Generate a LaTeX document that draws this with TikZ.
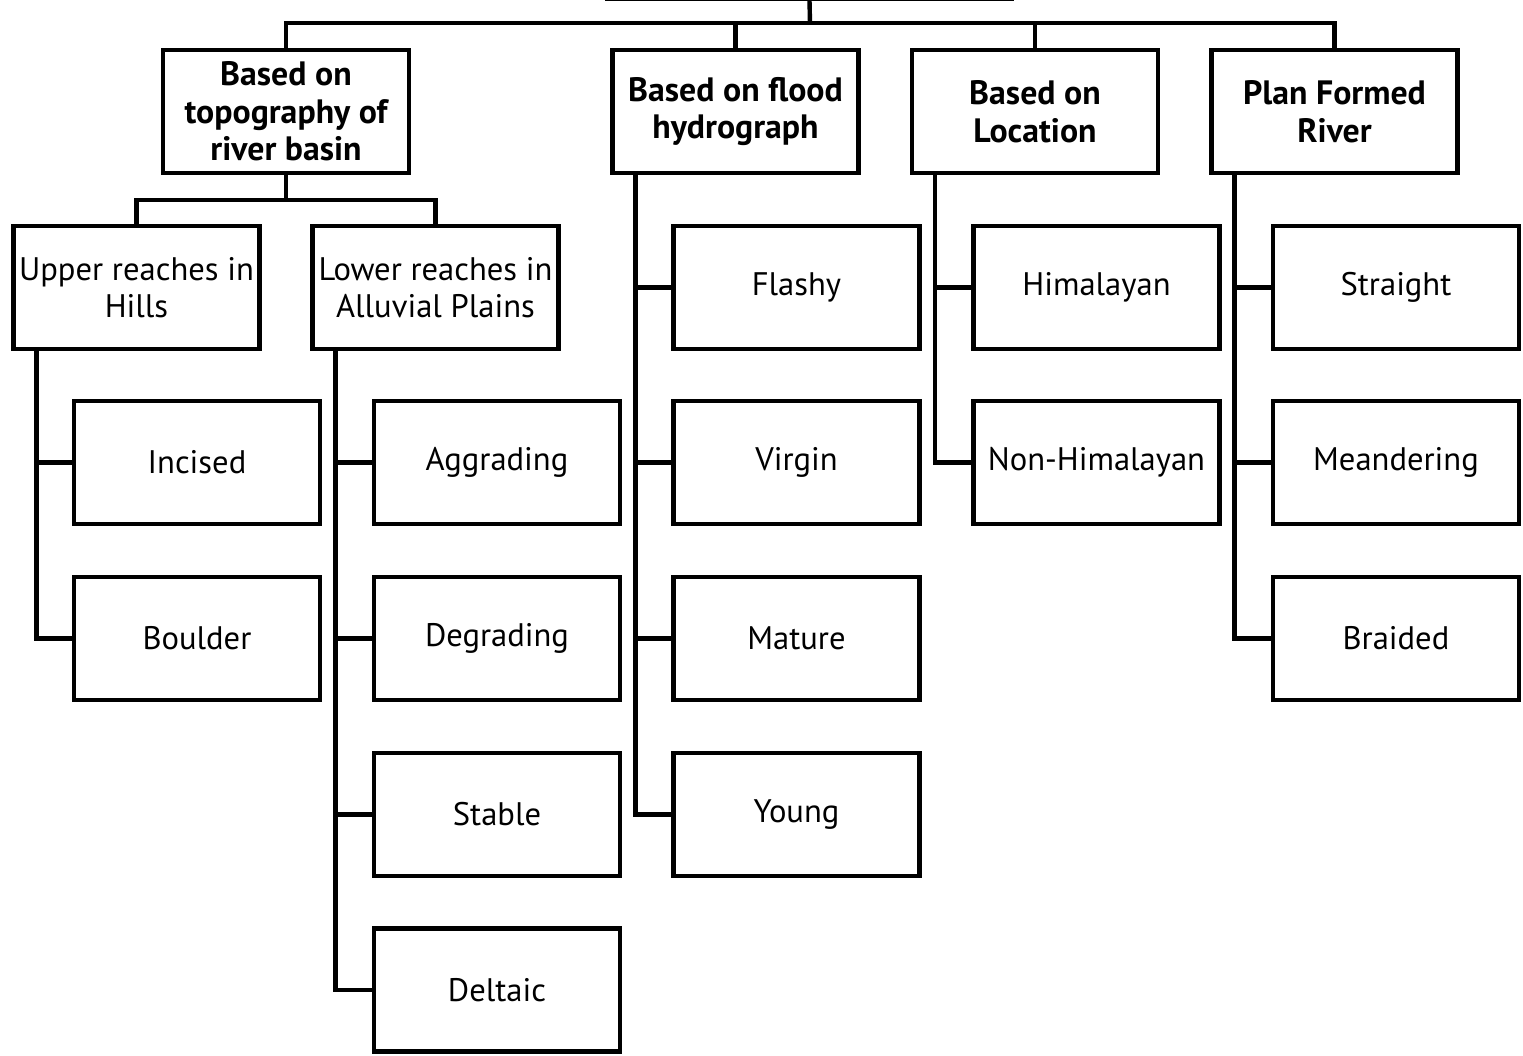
\documentclass[tikz,border=0pt]{standalone}
\usepackage{fontspec}
\setmainfont{PT Sans}
\begin{document}
\begin{tikzpicture}[x=0.5pt,y=-0.5pt,
  box/.style={draw,line width=2.2pt,minimum width=123pt,minimum height=61.5pt,inner sep=0pt,align=center,font=\fontsize{16.3}{18.7}\selectfont},
  cat/.style={box,font=\bfseries\fontsize{16.9}{18.8}\selectfont},
  conn/.style={line width=2.2pt}]
\useasboundingbox (0,0) rectangle (1523,1056);
% root (cropped by page edge)
\node[draw,line width=2pt,minimum width=202.5pt,minimum height=60pt] (root) at (809.5,-61.5) {};
\coordinate (bus) at (810,23);
% categories
\node[cat] (c1) at (286,111.5) {Based on\\topography of\\river basin};
\node[cat] (c2) at (735.5,111.5) {Based on flood\\hydrograph};
\node[cat] (c3) at (1035,111.5) {Based on\\Location};
\node[cat] (c4) at (1334.5,111.5) {Plan Formed\\River};
% second level of c1
\node[box] (up) at (136.5,287.5) {Upper reaches in\\Hills};
\node[box] (low) at (435.5,287.5) {Lower reaches in\\Alluvial Plains};
\coordinate (b1) at (286,200);
% leaves
\node[box] (incised) at (197,462.5) {Incised};
\node[box] (boulder) at (197,638.5) {Boulder};
\node[box] (aggr) at (497,462.5) {Aggrading};
\node[box] (degr) at (497,638.5) {Degrading};
\node[box] (stable) at (497,814.5) {Stable};
\node[box] (deltaic) at (497,990) {Deltaic};
\node[box] (flashy) at (796.5,287.5) {Flashy};
\node[box] (virgin) at (796.5,462.5) {Virgin};
\node[box] (mature) at (796.5,638.5) {Mature};
\node[box] (young) at (796.5,814.5) {Young};
\node[box] (him) at (1096.5,287.5) {Himalayan};
\node[box] (nonhim) at (1096.5,462.5) {Non-Himalayan};
\node[box] (straight) at (1396,287.5) {Straight};
\node[box] (meander) at (1396,462.5) {Meandering};
\node[box] (braided) at (1396,638.5) {Braided};
% connectors
\draw[conn] (root.south) -- (bus);
\foreach \c in {c1,c2,c3,c4} \draw[conn] (\c.north) |- (bus);
\draw[conn] (c1.south) -- (b1);
\draw[conn] (up.north) |- (b1);
\draw[conn] (low.north) |- (b1);
\foreach \p/\k in {up/incised,up/boulder,low/aggr,low/degr,low/stable,low/deltaic,c2/flashy,c2/virgin,c2/mature,c2/young,c3/him,c3/nonhim,c4/straight,c4/meander,c4/braided}
  \draw[conn] ([xshift=12.5pt]\p.south west) |- (\k.west);
\end{tikzpicture}
\end{document}
